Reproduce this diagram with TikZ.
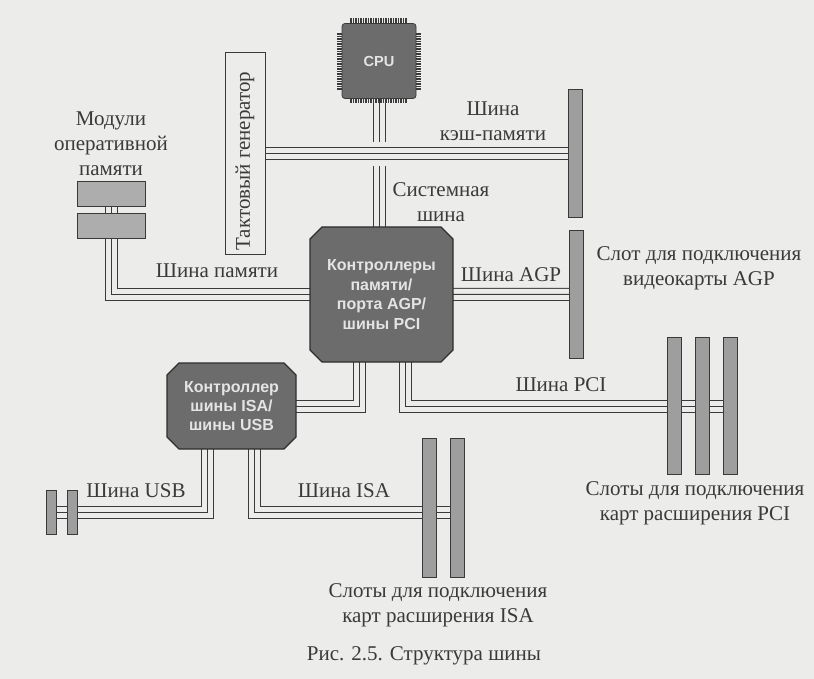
\documentclass[tikz,border=0pt]{standalone}
\usepackage{fontspec}
\setmainfont{Liberation Serif}
\setsansfont{Liberation Sans}
\definecolor{ink}{RGB}{58,58,58}
\definecolor{paper}{RGB}{236,236,235}
\definecolor{slotgray}{RGB}{158,158,158}
\definecolor{chipgray}{RGB}{108,108,108}
\definecolor{chiptext}{RGB}{228,228,228}
\usepackage{tikz}
\usetikzlibrary{shapes.misc,positioning}
\pgfdeclarelayer{paperlayer}
\pgfdeclarelayer{buslayer}
\pgfsetlayers{paperlayer,buslayer,main}

\begin{document}
\begin{tikzpicture}[x=0.5pt, y=-0.5pt,
    lbl/.style={font=\fontsize{10.5}{12.5}\selectfont, text=ink, align=center, inner sep=0pt},
    slot/.style={rectangle, draw=ink, fill=slotgray, line width=0.5pt, minimum width=7pt,
                 inner sep=0pt, outer sep=0pt},
    chip/.style={chamfered rectangle, chamfered rectangle xsep=3pt, chamfered rectangle ysep=3pt,
                 draw=ink!80!black, fill=chipgray, text=chiptext, line width=0.6pt,
                 font=\sffamily\bfseries\fontsize{8}{9.7}\selectfont, align=center,
                 inner sep=0pt, outer sep=0pt},
    cpubox/.style={rectangle, rounded corners=1.5pt, draw=ink, fill=chipgray, text=chiptext,
                   minimum width=37pt, minimum height=37.5pt, inner sep=0pt, outer sep=0pt,
                   font=\sffamily\bfseries\fontsize{7.3}{8}\selectfont},
    clockbox/.style={rectangle, draw=ink, fill=paper, line width=0.5pt, minimum width=101pt,
                     minimum height=20pt, inner sep=0pt, outer sep=0pt,
                     font=\fontsize{10.5}{12.5}\selectfont, text=ink},
    bus/.style={draw=ink, line width=0.5pt, preaction={draw=ink, line width=6.5pt},
                preaction={draw=paper, line width=5.5pt}},
    busover/.style={draw=ink, line width=0.5pt, preaction={draw=paper, line width=12pt},
                    preaction={draw=ink, line width=6.5pt}, preaction={draw=paper, line width=5.5pt}},
    pin/.style={draw=ink, line width=0.6pt}]

    % Page
    \begin{pgfonlayer}{paperlayer}
        \fill[paper] (0,0) rectangle (814,679);
    \end{pgfonlayer}
    \useasboundingbox (0,0) rectangle (814,679);

    % Processor and clock
    \node[cpubox] (cpu) at (379,61) {CPU};
    \foreach \t in {-14,-12.75,...,14}{
        \draw[pin] ([xshift=\t pt]cpu.north) -- ++(0pt,2.5pt);
        \draw[pin] ([xshift=\t pt]cpu.south) -- ++(0pt,-2.5pt);
        \draw[pin] ([yshift=\t pt]cpu.west) -- ++(-2.5pt,0pt);
        \draw[pin] ([yshift=\t pt]cpu.east) -- ++(2.5pt,0pt);
    }
    \node[clockbox, rotate=90] (clock) at (245,154) {\hspace*{-7pt}Тактовый генератор};

    % Controllers
    \node[chip, minimum width=71.5pt, minimum height=67.5pt] (ctrl) at (381.5,294.5)
        {Контроллеры\\памяти/\\порта AGP/\\шины PCI};
    \node[chip, minimum width=64.5pt, minimum height=43pt] (isactrl) at (231.5,406)
        {Контроллер\\шины ISA/\\шины USB};

    % Memory modules
    \node[slot, fill=slotgray!85!white, minimum width=34pt, minimum height=12.5pt] (ram1) at (111,194.5) {};
    \node[slot, fill=slotgray!85!white, minimum width=34pt, minimum height=12.5pt] (ram2) at (111,226.5) {};

    % Slots
    \node[slot, minimum height=64pt] (cacheslot) at (575,154) {};
    \node[slot, minimum height=64pt] (agpslot) at (576,294.5) {};
    \node[slot, minimum height=68.5pt] (pci1) at (674,406) {};
    \node[slot, minimum height=68.5pt] (pci2) at (702,406) {};
    \node[slot, minimum height=68.5pt] (pci3) at (730,406) {};
    \node[slot, minimum height=69.5pt] (isa1) at (429,507.5) {};
    \node[slot, minimum height=69.5pt] (isa2) at (457,507.5) {};
    \node[slot, minimum width=5pt, minimum height=22pt] (usb1) at (51,512) {};
    \node[slot, minimum width=5pt, minimum height=22pt] (usb2) at (72,512) {};

    % Buses
    \begin{pgfonlayer}{buslayer}
        \draw[bus] (cpu.south) -- (cpu.south |- ctrl.north);
        \draw[busover] (clock) -- (cacheslot);
        \draw[bus] (ram1.south) -- (ram2.north);
        \draw[bus] (ram2.south) |- (ctrl.west);
        \draw[bus] (ctrl) -- (agpslot);
        \draw[bus] ([xshift=-11pt]ctrl.south) |- (isactrl.east);
        \draw[bus] ([xshift=12pt]ctrl.south) |- (pci3.west);
        \draw[bus] ([xshift=-12pt]isactrl.south) |- (usb1.east);
        \draw[bus] ([xshift=11.5pt]isactrl.south) |- (isa2.west |- usb1.east);
    \end{pgfonlayer}

    % Labels
    \node[lbl, above=3pt of ram1] (lblram) {Модули\\оперативной\\памяти};
    \node[lbl] (lblcache) at (493,121) {Шина\\кэш-памяти};
    \node[lbl] (lblsys) at (441,202) {Системная\\шина};
    \node[lbl] (lblmem) at (217,271) {Шина памяти};
    \node[lbl] (lblagp) at (511,275) {Шина AGP};
    \node[lbl] (lblagpslot) at (699,268) {Слот для подключения\\видеокарты AGP};
    \node[lbl] (lblpci) at (561,385) {Шина PCI};
    \node[lbl] (lblpcislot) at (695,503) {Слоты для подключения\\карт расширения PCI};
    \node[lbl] (lblusb) at (136,491) {Шина USB};
    \node[lbl] (lblisa) at (344,491) {Шина ISA};
    \node[lbl] (lblisaslot) at (438,605) {Слоты для подключения\\карт расширения ISA};
    \node[lbl] (caption) at (424,656) {Рис. 2.5. Структура шины};
\end{tikzpicture}
\end{document}
